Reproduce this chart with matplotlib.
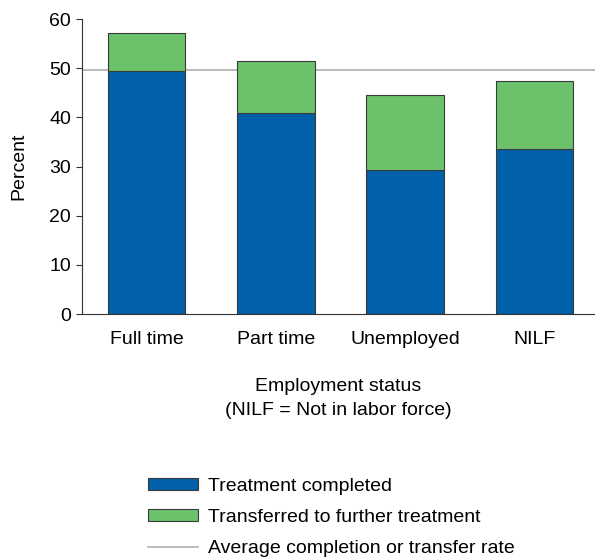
import matplotlib.pyplot as plt
from matplotlib.patches import Patch
from matplotlib.lines import Line2D

plt.rcParams['font.family'] = ['Liberation Sans', 'DejaVu Sans']

categories = ['Full time', 'Part time', 'Unemployed', 'NILF']
completed = [49.5, 40.8, 29.3, 33.6]
transferred = [7.6, 10.6, 15.3, 13.7]
average_rate = 49.6

BLUE = '#0060a9'
GREEN = '#6cc16b'
EDGE = '#3a3a3a'
FS = 14

fig = plt.figure(figsize=(5.95, 5.59), dpi=100)
ax = fig.add_axes([0.138, 0.438, 0.862, 0.528])

x = range(len(categories))
ax.axhline(average_rate, color='#b0b0b0', linewidth=1.2, zorder=1)
ax.bar(x, completed, width=0.6, color=BLUE, edgecolor=EDGE, linewidth=0.8, zorder=2)
ax.bar(x, transferred, bottom=completed, width=0.6, color=GREEN,
       edgecolor=EDGE, linewidth=0.8, zorder=2)

ax.set_xlim(-0.5, 3.47)
ax.set_ylim(0, 60)
ax.set_yticks(range(0, 61, 10))
ax.set_xticks(list(x))
ax.set_xticklabels(categories)
ax.tick_params(axis='y', labelsize=FS, length=4, color='#333333', pad=4)
ax.tick_params(axis='x', labelsize=FS, length=0, pad=12)
for side in ('top', 'right'):
    ax.spines[side].set_visible(False)
ax.spines['left'].set_color('#333333')
ax.spines['bottom'].set_color('#333333')
ax.set_ylabel('Percent', fontsize=FS, labelpad=16)
ax.set_xlabel('Employment status\n(NILF = Not in labor force)', fontsize=FS,
              labelpad=22, linespacing=1.5)

handles = [
    Patch(facecolor=BLUE, edgecolor=EDGE, linewidth=0.8),
    Patch(facecolor=GREEN, edgecolor=EDGE, linewidth=0.8),
    Line2D([0], [0], color='#b0b0b0', linewidth=1.2),
]
labels = ['Treatment completed', 'Transferred to further treatment',
          'Average completion or transfer rate']
fig.legend(handles, labels, loc='upper left', bbox_to_anchor=(0.235, 0.159),
           frameon=False, fontsize=FS, handlelength=2.6, handleheight=0.55,
           labelspacing=0.72, handletextpad=0.5, borderaxespad=0)

fig.savefig('out.png', dpi=100)
